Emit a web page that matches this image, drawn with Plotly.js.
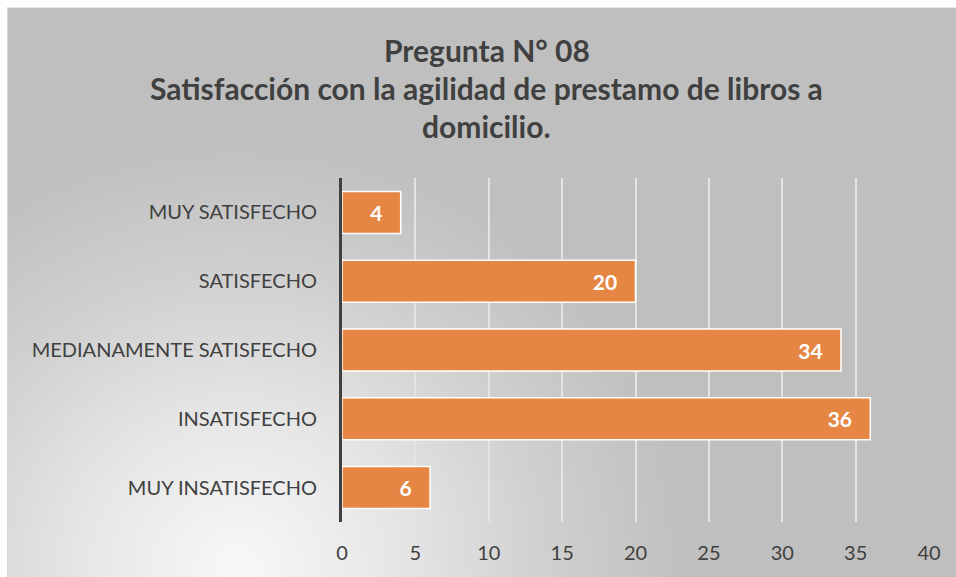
<!DOCTYPE html>
<html>
<head>
<meta charset="utf-8">
<script src="https://cdn.plot.ly/plotly-3.0.1.min.js"></script>
<style>
  html, body { margin: 0; padding: 0; background: #ffffff; }
  #wrap { position: relative; width: 956px; height: 577px; overflow: hidden; background: #ffffff; }
  #bg { position: absolute; left: 7px; top: 7px; right: 0; bottom: 0;
        border-left: 1px solid #d6d6d6; border-top: 1px solid #e6e6e6;
        background: radial-gradient(ellipse 450px 430px at 230px 560px, #f8f8f8 0%, #e6e6e6 35%, #d0d0d0 68%, #bfbfbf 100%); }
  #chart { position: absolute; left: 0; top: 0; width: 956px; height: 577px; }
</style>
</head>
<body>
<div id="wrap"><div id="bg"></div><div id="chart"></div></div>
<script>
const categories = ["MUY SATISFECHO", "SATISFECHO", "MEDIANAMENTE SATISFECHO", "INSATISFECHO", "MUY INSATISFECHO"];
const values = [4, 20, 34, 36, 6];
const xTicks = [0, 5, 10, 15, 20, 25, 30, 35, 40];
const titleLines = ["Pregunta N° 08", "Satisfacción con la agilidad de prestamo de libros a", "domicilio."];

const font = "Lato, 'Open Sans', sans-serif";

const trace = {
  type: "bar",
  orientation: "h",
  y: categories,
  x: values,
  text: values.map(v => String(v) + "\u00a0\u00a0\u00a0"),
  textposition: "inside",
  insidetextanchor: "end",
  textfont: { family: font, size: 21, color: "#ffffff", weight: "bold" },
  marker: { color: "#E68644", line: { color: "#ffffff", width: 1.5 } },
  hoverinfo: "skip",
  cliponaxis: false
};

const titleY = [1.372, 1.262, 1.151];
const annotations = titleLines.map((t, i) => ({
  text: t,
  xref: "paper", yref: "paper",
  x: 0.247, y: titleY[i],
  xanchor: "center", yanchor: "middle",
  showarrow: false,
  font: { family: font, size: 30, color: "#404040", weight: "bold" }
}));

const layout = {
  width: 956, height: 577,
  paper_bgcolor: "rgba(0,0,0,0)",
  plot_bgcolor: "rgba(0,0,0,0)",
  margin: { l: 342, r: 27, t: 178, b: 55 },
  bargap: 0.39,
  showlegend: false,
  annotations: annotations,
  xaxis: {
    range: [0, 40],
    tickvals: xTicks,
    ticktext: xTicks.map(String),
    showgrid: true, gridcolor: "#e4e4e4", gridwidth: 2,
    zeroline: false, showline: false,
    ticks: "", ticklabelstandoff: 17,
    tickfont: { family: font, size: 20, color: "#404040" },
    fixedrange: true
  },
  yaxis: {
    type: "category",
    categoryorder: "array", categoryarray: categories,
    autorange: "reversed",
    showgrid: false, zeroline: false,
    showline: true, linecolor: "#404040", linewidth: 3,
    ticks: "", ticklabelstandoff: 18,
    tickfont: { family: font, size: 20, color: "#404040" },
    fixedrange: true
  }
};

Plotly.newPlot("chart", [trace], layout, { displayModeBar: false, staticPlot: true });
</script>
</body>
</html>
